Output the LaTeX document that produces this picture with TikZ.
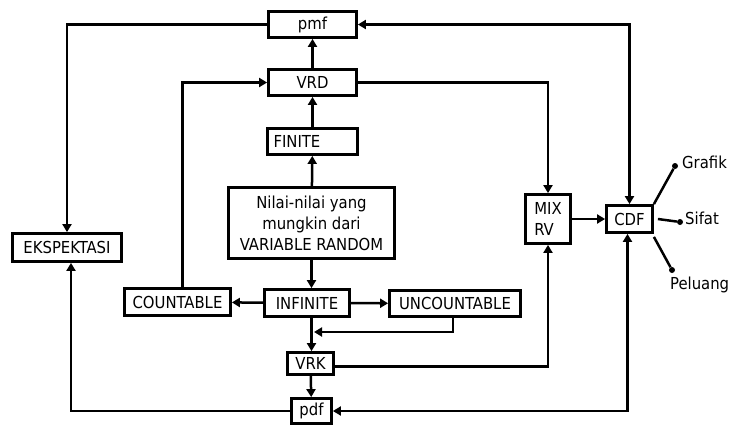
\documentclass[tikz,border=0pt]{standalone}
\usepackage{fontspec}
\setmainfont{DejaVu Sans Condensed}
\usetikzlibrary{arrows.meta}
\tikzset{
  kotak/.style = {rectangle, draw, line width=2.8pt, fill=white, inner sep=1pt, font=\fontsize{16.5}{21}\selectfont},
  panah/.style = {line width=2.5pt, -{Triangle[length=8pt,width=9pt]}},
  dua/.style   = {line width=2.5pt, {Triangle[length=8pt,width=9pt]}-{Triangle[length=8pt,width=9pt]}},
  garis/.style = {line width=2.5pt},
  titik/.style = {circle, fill, minimum size=6pt, inner sep=0},
  et/.style    = {font=\fontsize{16.5}{20}\selectfont, inner sep=1pt}
}

\begin{document}
\begin{tikzpicture}[x=1pt,y=-1pt]
  \useasboundingbox (0,0) rectangle (732,426);
  % kotak-kotak utama
  \node[kotak, minimum width=88pt, minimum height=26pt] (pmf) at (312.5,24.5) {pmf};
  \node[kotak, minimum width=88pt, minimum height=26pt] (VRD) at (312.5,82.5) {VRD};
  \node[kotak, minimum width=90pt, minimum height=26pt, inner xsep=5pt, text width=78pt, align=left] (FINITE) at (312.5,141.5) {FINITE};
  \node[kotak, minimum width=166pt, minimum height=71pt, align=center] (nilai) at (311.5,223) {Nilai-nilai yang\\mungkin dari\\VARIABLE RANDOM};
  \node[kotak, minimum width=85pt, minimum height=27pt] (INFINITE) at (307,303) {INFINITE};
  \node[kotak, minimum width=106pt, minimum height=27pt] (COUNTABLE) at (177.5,302) {COUNTABLE};
  \node[kotak, minimum width=131pt, minimum height=26pt] (UNCOUNTABLE) at (455,303.5) {UNCOUNTABLE};
  \node[kotak, minimum width=46pt, minimum height=22pt] (VRK) at (310.5,363.5) {VRK};
  \node[kotak, minimum width=40pt, minimum height=25pt] (pdf) at (311.5,411) {pdf};
  \node[kotak, minimum width=109pt, minimum height=28pt] (EKSPEKTASI) at (67,247.5) {EKSPEKTASI};
  \node[kotak, minimum width=45pt, minimum height=49pt, align=left] (MIXRV) at (548,219) {MIX\\RV};
  \node[kotak, minimum width=46pt, minimum height=27pt] (CDF) at (629.5,219) {CDF};

  % sifat-sifat CDF
  \node[titik] (tGrafik) at (675,166) {};
  \node[titik] (tSifat) at (680,222) {};
  \node[titik] (tPeluang) at (672,270) {};
  \draw[garis] (CDF.north east) -- (tGrafik); \node[et, anchor=west] (Grafik) at (681,162) {Grafik};
  \draw[garis] ([xshift=4pt]CDF.east) -- (tSifat); \node[et, anchor=west] (Sifat) at (684,218) {Sifat};
  \draw[garis] ([yshift=-3pt]CDF.south east) -- (tPeluang); \node[et, anchor=west] (Peluang) at (669,285) {Peluang};

  % alur
  \coordinate (temu) at (314,332);
  \draw[panah] (pmf.west) -| (EKSPEKTASI.north);
  \draw[dua] (pmf.east) -| (CDF.north);
  \draw[panah] (VRD) -- (pmf);
  \draw[panah] (FINITE) -- (VRD);
  \draw[panah] (nilai) -- (FINITE);
  \draw[panah] (nilai.south) -- (nilai.south |- INFINITE.north);
  \draw[panah] (VRD.east) -| (MIXRV.north);
  \draw[panah] ([xshift=5pt]COUNTABLE.north) |- (VRD.west);
  \draw[panah] (INFINITE) -- (COUNTABLE);
  \draw[panah] (INFINITE) -- (UNCOUNTABLE);
  \draw[panah] (nilai.south |- INFINITE.south) -- (nilai.south |- VRK.north);
  \draw[panah] ([xshift=-2pt]UNCOUNTABLE.south) |- (temu);
  \draw[panah] ([yshift=-3pt]VRK.east) -| (MIXRV.south);
  \draw[panah] (VRK) -- (pdf);
  \draw[panah] (pdf.west) -| ([xshift=4pt]EKSPEKTASI.south);
  \draw[dua] (pdf.east) -| ([xshift=-2pt]CDF.south);
  \draw[panah] (MIXRV) -- (CDF);
\end{tikzpicture}
\end{document}
